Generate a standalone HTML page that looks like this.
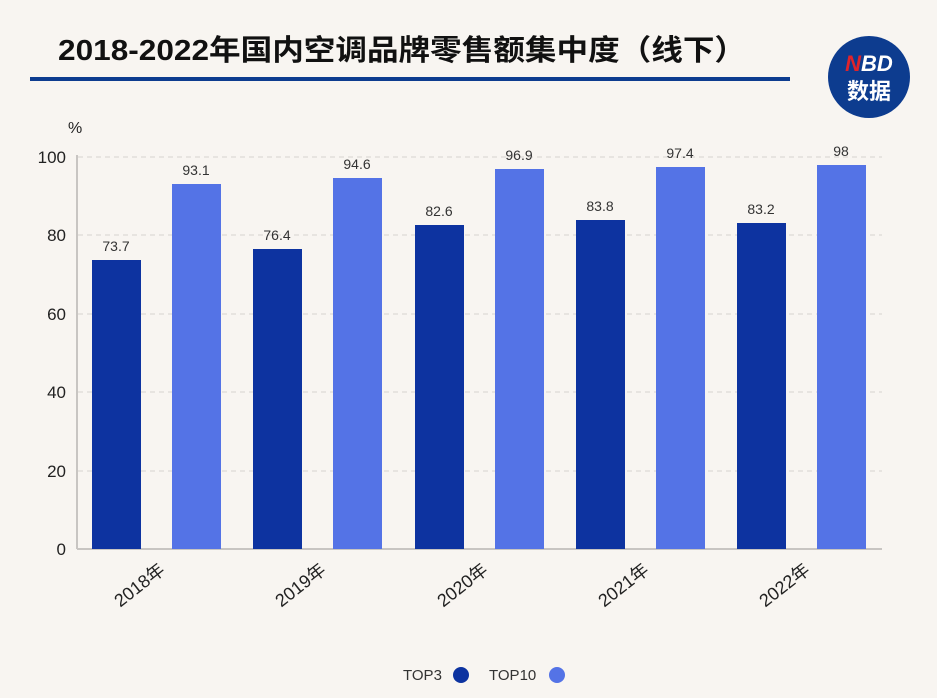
<!DOCTYPE html>
<html><head><meta charset="utf-8"><style>
body{margin:0;background:#f8f5f1;}
svg{display:block;font-family:"Liberation Sans","Noto Sans CJK SC",sans-serif;}
</style></head><body>
<svg width="937" height="698" viewBox="0 0 937 698">
<rect width="937" height="698" fill="#f8f5f1"/>
<text x="58" y="60" font-size="29" font-weight="bold" fill="#111" textLength="688" lengthAdjust="spacingAndGlyphs">2018-2022年国内空调品牌零售额集中度（线下）</text>
<rect x="30" y="77" width="760" height="4" fill="#0d3c8f"/>
<circle cx="869" cy="77" r="41" fill="#0d3c8f"/>
<text x="869" y="71" font-size="22" font-weight="bold" font-style="italic" fill="#fff" text-anchor="middle"><tspan fill="#e0232b">N</tspan>BD</text>
<text x="869" y="99" font-size="22" font-weight="bold" fill="#fff" text-anchor="middle">数据</text>
<g stroke="#d6d3cf" stroke-dasharray="5,4" stroke-width="1">
<line x1="78" y1="157" x2="882" y2="157"/><line x1="78" y1="235" x2="882" y2="235"/>
<line x1="78" y1="314" x2="882" y2="314"/><line x1="78" y1="392" x2="882" y2="392"/>
<line x1="78" y1="471" x2="882" y2="471"/>
</g>
<line x1="77" y1="155" x2="77" y2="549" stroke="#c8c5c2" stroke-width="2"/>
<line x1="77" y1="549" x2="882" y2="549" stroke="#c8c5c2" stroke-width="2"/>
<g font-size="17" fill="#222" text-anchor="end">
<text x="66" y="163">100</text><text x="66" y="241">80</text><text x="66" y="320">60</text>
<text x="66" y="398">40</text><text x="66" y="477">20</text><text x="66" y="555">0</text>
</g>
<text x="68" y="133" font-size="16" fill="#222">%</text>
<g fill="#0d33a0">
<rect x="92" y="260" width="49" height="289"/><rect x="253" y="249" width="49" height="300"/>
<rect x="415" y="225" width="49" height="324"/><rect x="576" y="220" width="49" height="329"/>
<rect x="737" y="223" width="49" height="326"/>
</g>
<g fill="#5473e6">
<rect x="172" y="184" width="49" height="365"/><rect x="333" y="178" width="49" height="371"/>
<rect x="495" y="169" width="49" height="380"/><rect x="656" y="167" width="49" height="382"/>
<rect x="817" y="165" width="49" height="384"/>
</g>
<g font-size="14" fill="#333" text-anchor="middle">
<text x="116" y="251">73.7</text><text x="196" y="175">93.1</text>
<text x="277" y="240">76.4</text><text x="357" y="169">94.6</text>
<text x="439" y="216">82.6</text><text x="519" y="160">96.9</text>
<text x="600" y="211">83.8</text><text x="680" y="158">97.4</text>
<text x="761" y="214">83.2</text><text x="841" y="156">98</text>
</g>
<g font-size="18" fill="#222" text-anchor="end">
<text transform="translate(166,572) rotate(-38)">2018年</text>
<text transform="translate(327,572) rotate(-38)">2019年</text>
<text transform="translate(489,572) rotate(-38)">2020年</text>
<text transform="translate(650,572) rotate(-38)">2021年</text>
<text transform="translate(811,572) rotate(-38)">2022年</text>
</g>
<text x="403" y="680" font-size="15" fill="#333">TOP3</text>
<circle cx="461" cy="675" r="8" fill="#0d33a0"/>
<text x="489" y="680" font-size="15" fill="#333">TOP10</text>
<circle cx="557" cy="675" r="8" fill="#5473e6"/>
</svg>
</body></html>
